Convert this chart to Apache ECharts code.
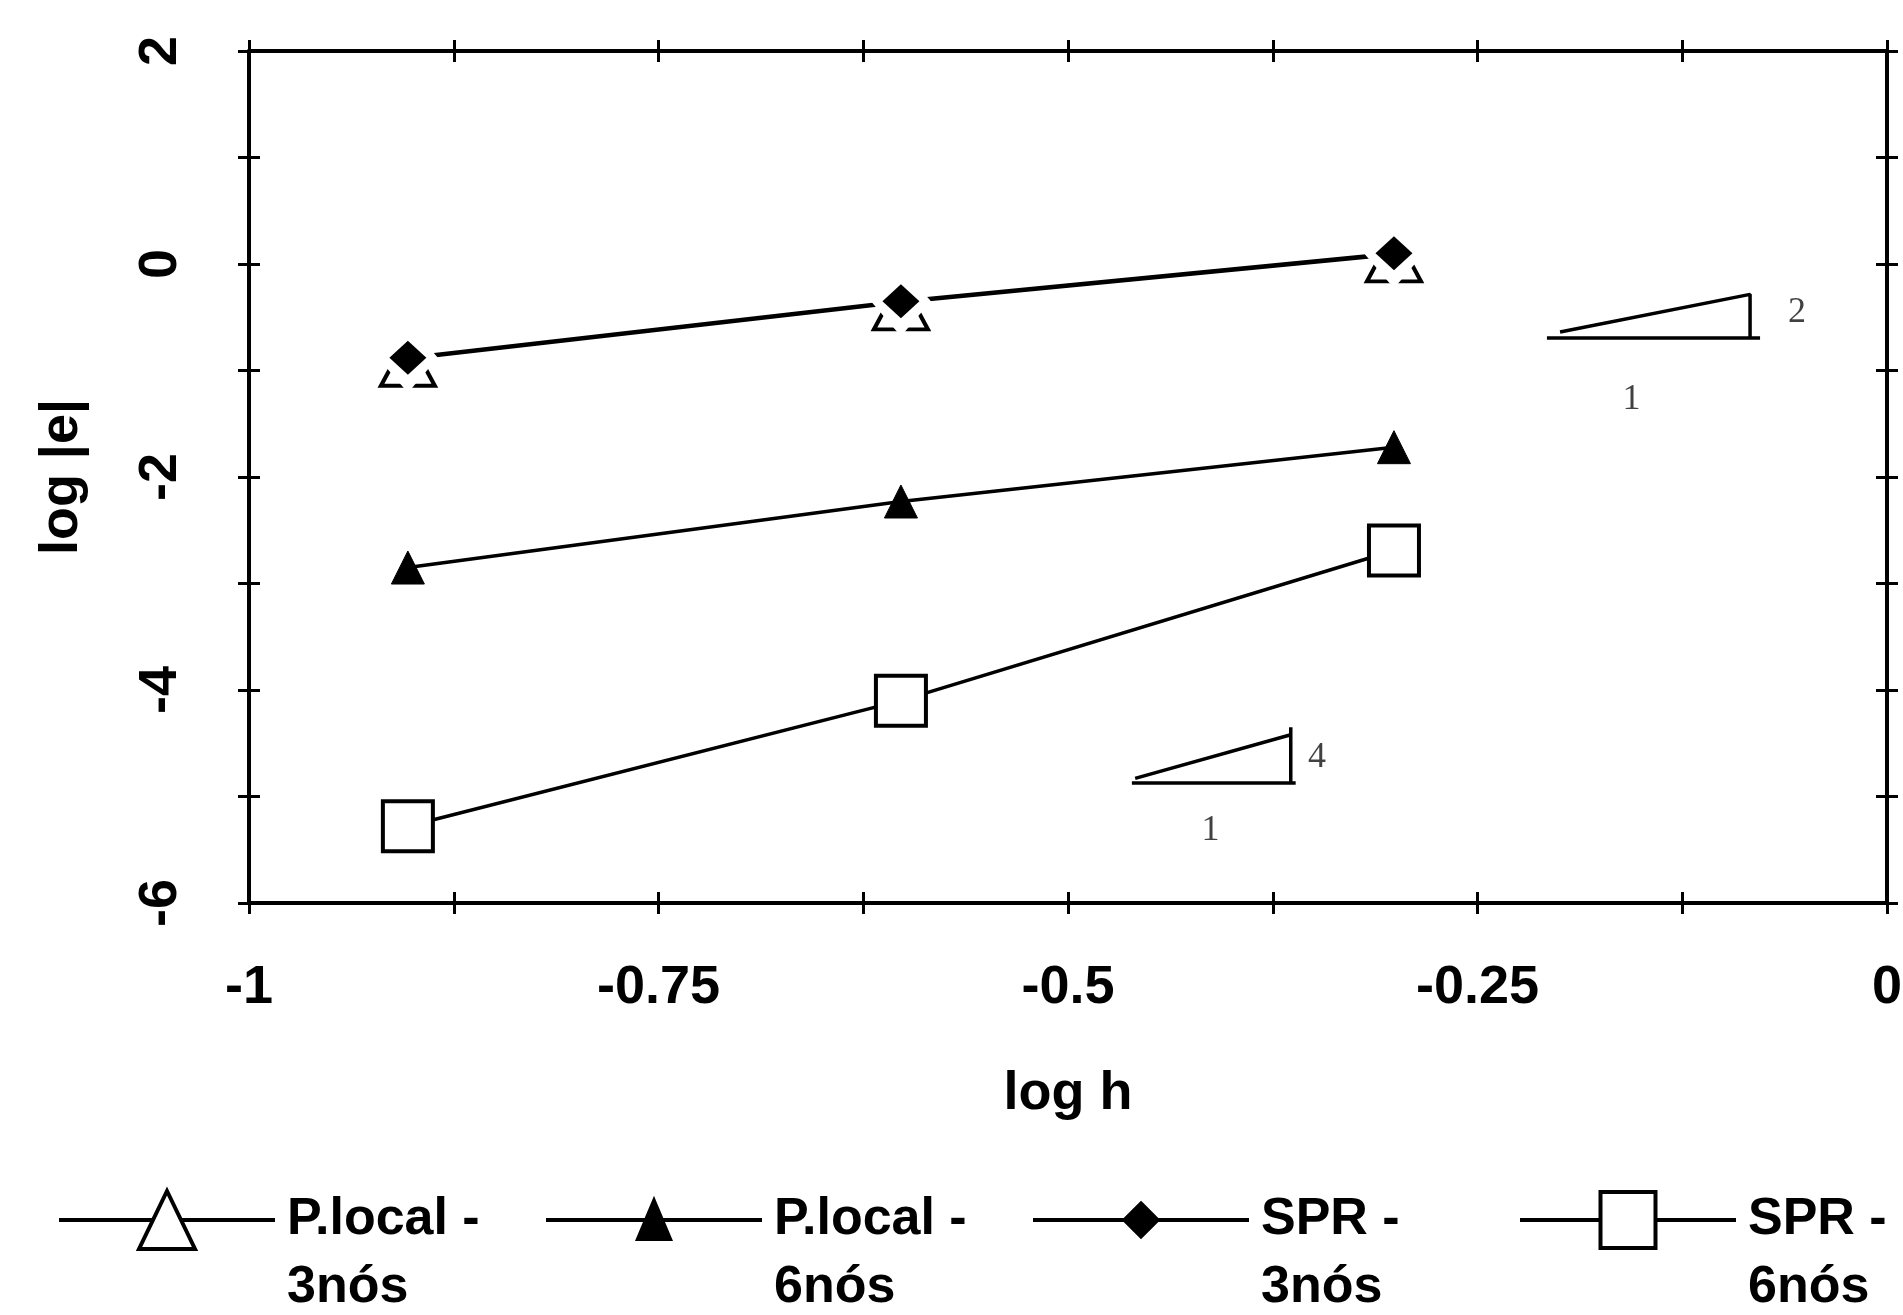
<!DOCTYPE html>
<html>
<head>
<meta charset="utf-8">
<title>log |e| x log h</title>
<script src="https://cdn.jsdelivr.net/npm/echarts/dist/echarts.min.js"></script>
<style>
  html, body { margin: 0; padding: 0; background: #fff; }
  #chart { width: 1903px; height: 1315px; }
</style>
</head>
<body>
<div id="chart"></div>
<script>
// valores
const logH = [-0.903, -0.602, -0.301];
const pLocal3 = [-0.89, -0.36, 0.09];
const pLocal6 = [-2.85, -2.23, -1.72];
const spr3 = [-0.88, -0.35, 0.10];
const spr6 = [-5.28, -4.10, -2.69];

const xTickLabels = ['-1', '-0.75', '-0.5', '-0.25', '0'];
const yTickLabels = ['-6', '-4', '-2', '0', '2'];

// triângulos de inclinação (coordenadas nos eixos)
const slope2Tri = [[-0.1996, -0.638], [-0.0836, -0.285], [-0.0836, -0.272], [-0.0836, -0.695], [-0.0775, -0.695], [-0.2076, -0.695]];
const slope4Tri = [[-0.459, -4.83], [-0.364, -4.42], [-0.364, -4.35], [-0.364, -4.873], [-0.361, -4.873], [-0.461, -4.873]];
const slopeLabels = [[-0.055, -0.46, '2'], [-0.156, -1.277, '1'], [-0.348, -4.63, '4'], [-0.413, -5.324, '1']];

const names = ['P.local -\n3nós', 'P.local -\n6nós', 'SPR -\n3nós', 'SPR -\n6nós'];

const font = "'Liberation Sans', Arial, sans-serif";
const pts = (ys) => logH.map((x, i) => [x, ys[i]]);

const chart = echarts.init(document.getElementById('chart'));

function xAxisDef(position, inside, main) {
  return {
    type: 'value', position: position, min: -1, max: 0, interval: 0.125,
    axisLine: { show: !inside, onZero: false, lineStyle: { color: '#000', width: 4 } },
    axisTick: { show: true, inside: inside, length: 11, lineStyle: { color: '#000', width: 3 } },
    axisLabel: {
      show: main, margin: 58, color: '#000', fontSize: 54, fontWeight: 'bold', fontFamily: font,
      formatter: (v) => xTickLabels.indexOf(String(v)) >= 0 ? String(v) : '',
    },
    splitLine: { show: false },
    name: main ? 'log h' : '', nameLocation: 'middle', nameGap: 164, nameMoveOverlap: false,
    nameTextStyle: { color: '#000', fontSize: 54, fontWeight: 'bold', fontFamily: font },
  };
}

function yAxisDef(position, inside, main) {
  return {
    type: 'value', position: position, min: -6, max: 2, interval: 1,
    axisLine: { show: !inside, onZero: false, lineStyle: { color: '#000', width: 4 } },
    axisTick: { show: true, inside: inside, length: 11, lineStyle: { color: '#000', width: 3 } },
    axisLabel: {
      show: main, margin: 61, rotate: 90, color: '#000', fontSize: 54, fontWeight: 'bold', fontFamily: font,
      formatter: (v) => yTickLabels.indexOf(String(v)) >= 0 ? String(v) : '',
    },
    splitLine: { show: false },
    name: main ? 'log |e|' : '', nameLocation: 'middle', nameGap: 160, nameRotate: 90, nameMoveOverlap: false,
    nameTextStyle: { color: '#000', fontSize: 54, fontWeight: 'bold', fontFamily: font },
  };
}

// ícones da legenda: linha + símbolo, caixa 216 x 60
const iconBox = 'M0,0 M216,60 ';
const icons = [
  'path://' + iconBox + 'M0,30 L94,30 M122,30 L216,30 M108,1 L136,59 L80,59 Z',
  'path://' + iconBox + 'M0,30 L216,30 M108,11 L124,49 L92,49 Z',
  'path://' + iconBox + 'M0,30 L216,30 M108,13.5 L124.5,30 L108,46.5 L91.5,30 Z',
  'path://' + iconBox + 'M0,30 L80.5,30 M135.5,30 L216,30 M80.5,2 L135.5,2 L135.5,58 L80.5,58 Z',
];
const iconFill = ['#fff', '#000', '#000', '#fff'];

const lineStyle = { color: '#000', width: 3.5 };

chart.setOption({
  animation: false,
  backgroundColor: '#fff',
  grid: { left: 249, right: 16, top: 51, bottom: 412, containLabel: false, outerBoundsMode: 'none' },
  legend: {
    left: 57, top: 1118, width: 1900, padding: 0,
    orient: 'horizontal', itemWidth: 216, itemHeight: 60, itemGap: 20,
    selectedMode: false,
    // linha vazia em cima: a 1a linha do texto fica na altura do ícone
    formatter: (name) => '\n' + name,
    textStyle: {
      color: '#000', fontSize: 52, fontWeight: 'bold', fontFamily: font,
      lineHeight: 68, padding: [0, 0, 0, 7], width: 237, overflow: 'none',
    },
    data: names.map((n, i) => ({
      name: n,
      icon: icons[i],
      itemStyle: { color: iconFill[i], borderColor: '#000', borderWidth: 4 },
      textStyle: i === 3 ? { width: 150 } : undefined,
    })),
  },
  xAxis: [xAxisDef('bottom', false, true), xAxisDef('bottom', true, false), xAxisDef('top', false, false), xAxisDef('top', true, false)],
  yAxis: [yAxisDef('left', false, true), yAxisDef('left', true, false), yAxisDef('right', false, false), yAxisDef('right', true, false)],
  series: [
    {
      name: names[0], type: 'line', data: pts(pLocal3),
      symbol: 'triangle', symbolSize: [54, 50], symbolOffset: [0, 2],
      itemStyle: { color: '#fff', borderColor: '#000', borderWidth: 4 },
      lineStyle: lineStyle,
    },
    {
      name: names[1], type: 'line', data: pts(pLocal6),
      symbol: 'triangle', symbolSize: [33, 33],
      itemStyle: { color: '#000', borderColor: '#000', borderWidth: 1 },
      lineStyle: lineStyle,
    },
    {
      name: names[3], type: 'line', data: pts(spr6),
      symbol: 'rect', symbolSize: 50,
      itemStyle: { color: '#fff', borderColor: '#000', borderWidth: 4 },
      lineStyle: lineStyle,
    },
    {
      // linha SPR 3nós; os símbolos brancos abrem o espaço em volta dos losangos
      name: names[2], type: 'line', data: pts(spr3), z: 3,
      symbol: 'diamond', symbolSize: [60, 70],
      itemStyle: { color: '#fff', borderWidth: 0 },
      lineStyle: lineStyle,
    },
    {
      name: 'spr3-markers', type: 'scatter', data: pts(spr3), z: 6,
      symbol: 'diamond', symbolSize: [37, 34],
      itemStyle: { color: '#000', opacity: 1 },
    },
    {
      name: 'slope2', type: 'line', data: slope2Tri, symbol: 'none',
      lineStyle: { color: '#000', width: 3.5 },
    },
    {
      name: 'slope4', type: 'line', data: slope4Tri, symbol: 'none',
      lineStyle: { color: '#000', width: 3.5 },
    },
    {
      name: 'slope-labels', type: 'scatter', data: slopeLabels,
      symbolSize: 1, itemStyle: { color: 'rgba(0,0,0,0)' },
      label: {
        show: true, position: 'inside', formatter: (p) => p.value[2],
        color: '#111', fontSize: 36, fontFamily: "'Liberation Serif', 'Times New Roman', serif",
      },
    },
  ],
});
</script>
</body>
</html>
